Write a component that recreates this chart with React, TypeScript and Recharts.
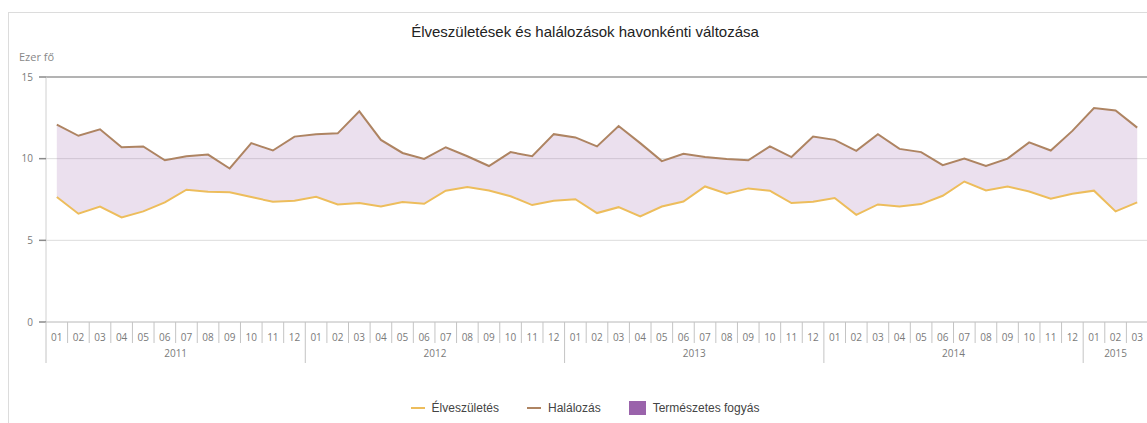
import { ComposedChart, Line, Area, XAxis, YAxis, CartesianGrid, ReferenceLine } from 'recharts';

// monthly births and deaths, thousand persons
const years = [2011, 2012, 2013, 2014, 2015];
const monthsPerYear = [12, 12, 12, 12, 3];
const monthLabels = ['01', '02', '03', '04', '05', '06', '07', '08', '09', '10', '11', '12'];

const births = [
  7.65, 6.63, 7.07, 6.4, 6.77, 7.32, 8.1, 7.98, 7.95, 7.65, 7.36, 7.42,
  7.67, 7.2, 7.28, 7.07, 7.34, 7.24, 8.04, 8.26, 8.05, 7.7, 7.16, 7.42,
  7.52, 6.67, 7.03, 6.46, 7.07, 7.38, 8.3, 7.85, 8.18, 8.04, 7.28, 7.36,
  7.59, 6.56, 7.2, 7.07, 7.22, 7.73, 8.6, 8.05, 8.3, 7.99, 7.55, 7.85,
  8.04, 6.77, 7.32,
];

const deaths = [
  12.08, 11.4, 11.8, 10.7, 10.75, 9.9, 10.15, 10.25, 9.4, 10.95, 10.5, 11.35,
  11.5, 11.55, 12.9, 11.15, 10.35, 9.98, 10.7, 10.15, 9.55, 10.4, 10.15, 11.5,
  11.3, 10.75, 12.0, 10.95, 9.85, 10.3, 10.1, 9.98, 9.9, 10.75, 10.1, 11.35,
  11.15, 10.48, 11.5, 10.6, 10.4, 9.6, 10.0, 9.55, 10.0, 11.0, 10.5, 11.7,
  13.1, 12.95, 11.9,
];

const yTicks = [0, 5, 10, 15];

type Row = {
  key: string;
  month: string;
  year: number;
  yearIdx: number;
  m: number;
  birth: number;
  death: number;
};

const data: Row[] = [];
years.forEach((year, yi) => {
  for (let m = 0; m < monthsPerYear[yi]; m += 1) {
    const i = data.length;
    data.push({
      key: `${year}-${monthLabels[m]}`,
      month: monthLabels[m],
      year,
      yearIdx: yi,
      m,
      birth: births[i],
      death: deaths[i],
    });
  }
});

const BIRTH = '#edbd5c';
const DEATH = '#ae8462';
const GAP = '#9a63ab';
const AXIS_TEXT = '#7a7a7a';
const FONT = '"Open Sans", "Liberation Sans", sans-serif';

function MonthTick(props: any) {
  const { x, y, payload, index } = props;
  const row = data[index];
  if (!row) return null;
  const half = payload?.offset || 10.8;
  const left = x - half;
  const yearStart = row.m === 0;
  return (
    <g>
      <line x1={left} x2={left} y1={y} y2={y + (yearStart ? 41 : 21)} stroke="#c4c4c4" strokeWidth={1} />
      <text x={x} y={y + 19} textAnchor="middle" fontSize={10} fill={AXIS_TEXT} fontFamily={FONT}>
        {row.month}
      </text>
      {yearStart && (
        <text
          x={left + monthsPerYear[row.yearIdx] * half}
          y={y + 35}
          textAnchor="middle"
          fontSize={10}
          fill={AXIS_TEXT}
          fontFamily={FONT}
        >
          {row.year}
        </text>
      )}
    </g>
  );
}

function LegendItem({ color, label, box }: { color: string; label: string; box?: boolean }) {
  return (
    <div style={{ display: 'flex', alignItems: 'center', gap: 7 }}>
      {box ? (
        <span style={{ width: 17, height: 14, background: color, display: 'inline-block' }} />
      ) : (
        <span style={{ width: 14, height: 2, background: color, display: 'inline-block' }} />
      )}
      <span>{label}</span>
    </div>
  );
}

export default function App() {
  return (
    <div style={{ position: 'fixed', left: 8, top: 12, width: 1139, height: 411, overflow: 'hidden' }}>
      <div
        style={{
          position: 'absolute',
          left: 0,
          top: 0,
          width: 1152,
          height: 430,
          border: '1px solid #dcdcdc',
          boxSizing: 'border-box',
          background: '#fff',
        }}
      >
        <div
          style={{
            position: 'absolute',
            left: 0,
            top: 10,
            width: 1152,
            textAlign: 'center',
            fontFamily: '"Liberation Sans", Arial, sans-serif',
            fontSize: 15,
            color: '#222',
          }}
        >
          Élveszületések és halálozások havonkénti változása
        </div>
        <div
          style={{
            position: 'absolute',
            left: 10,
            top: 36,
            fontFamily: FONT,
            fontSize: 11,
            color: '#888',
          }}
        >
          Ezer fő
        </div>

        <div style={{ position: 'absolute', left: 0, top: 0 }}>
          <ComposedChart width={1139} height={409} data={data} margin={{ top: 64, right: 0, bottom: 50, left: 0 }}>
            <CartesianGrid vertical={false} stroke="#dcdcdc" horizontalValues={[5, 10]} />
            <YAxis
              type="number"
              domain={[0, 15]}
              ticks={yTicks}
              width={37}
              axisLine={{ stroke: '#d0d0d0' }}
              tickLine={{ stroke: '#8a8a8a', strokeWidth: 1.5 }}
              tickSize={7}
              tickMargin={6}
              tick={{ fontSize: 10, fill: AXIS_TEXT, fontFamily: FONT }}
            />
            <XAxis
              dataKey="key"
              scale="band"
              interval={0}
              height={50}
              axisLine={{ stroke: '#b8b8b8' }}
              tickLine={false}
              tickSize={0}
              tickMargin={0}
              tick={<MonthTick />}
            />
            <ReferenceLine y={15} stroke="#9a9a9a" strokeWidth={1.5} />
            <Area
              type="linear"
              dataKey={(d: Row) => [d.birth, d.death]}
              stroke="none"
              fill={GAP}
              fillOpacity={0.2}
              isAnimationActive={false}
            />
            <Line type="linear" dataKey="death" stroke={DEATH} strokeWidth={2} dot={false} isAnimationActive={false} />
            <Line type="linear" dataKey="birth" stroke={BIRTH} strokeWidth={2} dot={false} isAnimationActive={false} />
          </ComposedChart>
        </div>

        <div
          style={{
            position: 'absolute',
            left: 0,
            top: 388,
            width: 1152,
            display: 'flex',
            justifyContent: 'center',
            gap: 28,
            fontFamily: '"Liberation Sans", Arial, sans-serif',
            fontSize: 12,
            color: '#444',
          }}
        >
          <LegendItem color={BIRTH} label="Élveszületés" />
          <LegendItem color={DEATH} label="Halálozás" />
          <LegendItem color={GAP} label="Természetes fogyás" box />
        </div>
      </div>
    </div>
  );
}
